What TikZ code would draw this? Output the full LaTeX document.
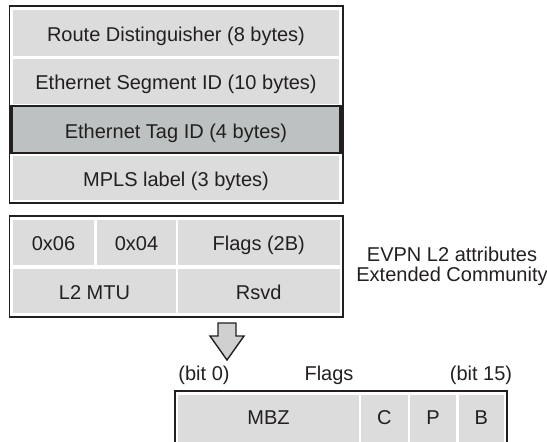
\documentclass[tikz,border=0pt]{standalone}
\usepackage{fontspec}
\setmainfont{Liberation Sans}
\definecolor{cellgray}{HTML}{DCDCDC}
\definecolor{taggray}{HTML}{BCC2C1}
\definecolor{arrowgray}{HTML}{D0D0D0}
\definecolor{inkline}{HTML}{231F20}
\tikzset{cell/.style={inner sep=0pt, outer sep=0pt, fill=cellgray, text=inkline, font=\fontsize{20}{20}\selectfont, text height=17pt, text depth=0pt},
frame/.style={draw=inkline, line width=1.6pt},
lbl/.style={inner sep=0pt, text=inkline, font=\fontsize{20}{19.5}\selectfont}}

\begin{document}
\begin{tikzpicture}[x=1pt,y=-1pt]
\useasboundingbox (0,0) rectangle (547,442);
\clip (0,0) rectangle (547,442);
% route type 2 fields
\draw[frame] (9.5,6) rectangle (343,203);
\foreach \n/\y/\h/\t in {rd/33/46/Route Distinguisher (8 bytes),esi/81.25/44.5/Ethernet Segment ID (10 bytes),mpls/178/44/MPLS label (3 bytes)}{
\node[cell, minimum width=326pt, minimum height=\h pt] (\n) at (176,\y) {\t};
}
\node[cell, fill=taggray, draw=inkline, line width=2.5pt, minimum width=329pt, minimum height=47pt] (etag) at (176,129.5) {Ethernet Tag ID (4 bytes)};
% extended community
\draw[frame] (9.5,216) rectangle (343,317);
\foreach \n/\x/\y/\w/\t in {typ/53.5/242.25/81/0x06,sub/136.5/242.25/79/0x04,flg/258.75/242.25/161.5/Flags (2B),mtu/94.5/290.75/163/L2 MTU,rsv/258.75/290.75/161.5/Rsvd}{
\node[cell, minimum width=\w pt, minimum height=44.5pt] (\n) at (\x,\y) {\t};
}
\node[lbl, align=center] (evpn) at (452,266.5) {EVPN L2 attributes\\Extended Community};
% block arrow
\draw[draw=inkline, fill=arrowgray, line width=1.4pt] (218,323) -- (236,323) -- (236,336) -- (244,336) -- (227,360) -- (210,336) -- (218,336) -- cycle;
% flags
\node[lbl, anchor=base] (bit0) at (204,380.5) {(bit 0)};
\node[lbl, anchor=base] (flags) at (329,380.5) {Flags};
\node[lbl, anchor=base] (bit15) at (481,380.5) {(bit 15)};
\draw[frame] (175,391) rectangle (507,460);
\foreach \n/\x/\w/\t in {mbz/268.5/181/MBZ,c/384.25/46.5/C,p/433/46/P,b/481.25/45.5/B}{
\node[cell, text height=14.3pt, text depth=16pt, minimum width=\w pt, minimum height=60pt] (\n) at (\x,425) {\t};
}
\end{tikzpicture}
\end{document}
